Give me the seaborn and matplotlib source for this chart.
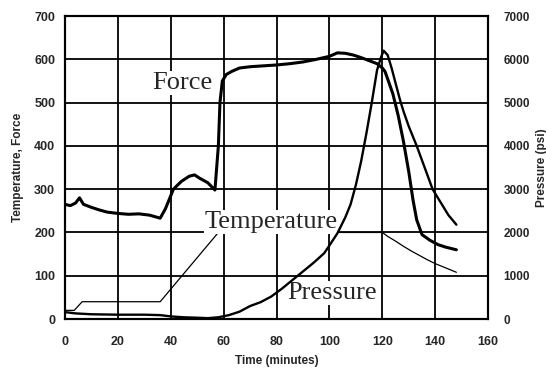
import numpy as np
import pandas as pd
import matplotlib
matplotlib.use("Agg")
import matplotlib.pyplot as plt
import seaborn as sns

# ==================== data ====================
force_time = [0, 2, 4, 5.5, 7, 10, 13, 16, 20, 24, 28, 32, 36, 38, 41, 44, 47, 49,
              51, 54, 56.7, 58, 58.6, 59.5, 61, 63, 66, 70, 75, 80, 85, 90, 95, 100,
              103, 106, 109, 112, 115, 118, 120, 121, 122, 124, 126, 128, 130, 131.6,
              133, 135, 138, 141, 144, 148]
force_vals = [265, 262, 268, 280, 265, 258, 252, 247, 244, 242, 243, 240, 233, 255,
              300, 318, 330, 333, 325, 315, 298, 400, 500, 550, 565, 572, 580, 583,
              585, 587, 590, 594, 600, 607, 615, 614, 610, 604, 597, 590, 580, 572,
              555, 520, 470, 410, 340, 275, 229, 195, 182, 172, 166, 160]

pres_time = [0, 4, 10, 20, 30, 36, 40, 45, 50, 54, 58, 62, 66, 70, 74, 78, 82, 86,
             90, 94, 98, 100, 103, 106, 108, 110, 112, 114, 116, 118, 119.5, 120.5,
             122, 123.5, 125, 126.7, 128, 130, 133, 136, 139, 142, 145, 148]
pres_psi = [160, 130, 110, 100, 100, 90, 60, 40, 30, 20, 40, 90, 170, 300, 390, 520,
            700, 900, 1100, 1300, 1520, 1700, 1980, 2350, 2650, 3100, 3650, 4300,
            5000, 5750, 6050, 6200, 6100, 5800, 5450, 5060, 4800, 4450, 4000, 3500,
            3000, 2700, 2400, 2180]

temp_time = [0, 3.5, 6.5, 36, 58, 120, 122, 125, 128, 131, 134, 137, 140, 144, 148]
temp_vals = [20, 20, 40, 40, 200, 200, 191, 180, 168, 157, 147, 137, 128, 118, 108]

x_ticks = [0, 20, 40, 60, 80, 100, 120, 140, 160]
left_ticks = [0, 100, 200, 300, 400, 500, 600, 700]
right_ticks = [0, 1000, 2000, 3000, 4000, 5000, 6000, 7000]

# ==================== plot ====================
sns.set_style("white")
plt.rcParams['font.family'] = ['Liberation Sans', 'DejaVu Sans']

fig = plt.figure(figsize=(5.46, 3.74), dpi=100)
ax = fig.add_axes([0.119, 0.147, 0.775, 0.810])
ax2 = ax.twinx()

sns.lineplot(x=temp_time, y=temp_vals, ax=ax, color='black', lw=0.9,
             sort=False, estimator=None, zorder=3)
sns.lineplot(x=force_time, y=force_vals, ax=ax, color='black', lw=2.2,
             sort=False, estimator=None, zorder=3)
sns.lineplot(x=pres_time, y=pres_psi, ax=ax2, color='black', lw=1.7,
             sort=False, estimator=None)

ax.set_xlim(0, 160)
ax.set_ylim(0, 700)
ax2.set_ylim(0, 7000)
ax.set_xticks(x_ticks)
ax.set_yticks(left_ticks)
ax2.set_yticks(right_ticks)

ax.set_axisbelow(True)
ax.grid(True, color='black', lw=1.3)
for a in (ax, ax2):
    for s in a.spines.values():
        s.set_color('black')
        s.set_linewidth(1.5)
ax.tick_params(axis='y', length=0, labelsize=9, pad=7)
ax.tick_params(axis='x', length=0, labelsize=9, pad=12)
ax2.tick_params(axis='y', length=0, labelsize=8.5, pad=11)
for lab in ax.get_xticklabels() + ax.get_yticklabels() + ax2.get_yticklabels():
    lab.set_fontweight('bold')

ax.set_xlabel('Time (minutes)', fontsize=8.5, fontweight='bold', labelpad=5)
ax.set_ylabel('Temperature, Force', fontsize=8.5, fontweight='bold', labelpad=7)
ax2.set_ylabel('Pressure (psi)', fontsize=8.5, fontweight='bold')
ax2.yaxis.set_label_coords(1.112, 0.5)

# curve labels (serif, white box covers the grid)
box = dict(facecolor='white', edgecolor='none', pad=0.5)
ax.text(44.5, 545, 'Force', family='Liberation Serif', fontsize=19,
        ha='center', va='center', bbox=box, zorder=5)
ax.text(78, 224, 'Temperature', family='Liberation Serif', fontsize=19,
        ha='center', va='center', bbox=box, zorder=5)
ax.text(101, 60, 'Pressure', family='Liberation Serif', fontsize=19,
        ha='center', va='center', bbox=box, zorder=5)

fig.savefig('out.png', dpi=100)
